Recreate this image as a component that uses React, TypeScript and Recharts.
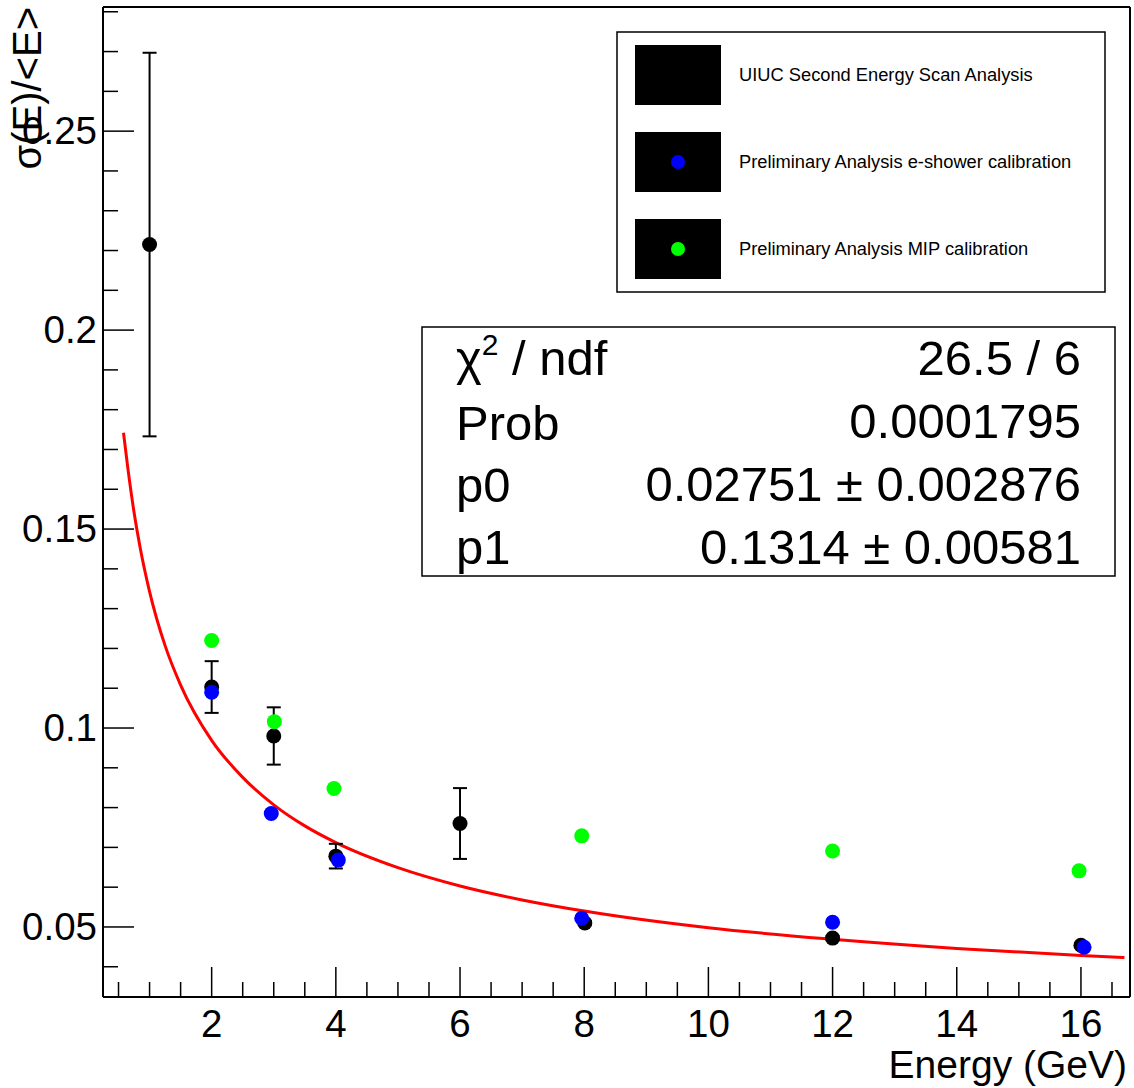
import React from "react";
import { ComposedChart, XAxis, YAxis, Scatter, Line, ErrorBar } from "recharts";

/* ── energy resolution vs beam energy, ROOT-style canvas ── */

const uiucE = [1, 2, 3, 4, 6, 8.01, 12, 16];
const uiucRes = [0.2215, 0.1103, 0.098, 0.0678, 0.076, 0.051, 0.0472, 0.0454];
const uiucErr = [0.0482, 0.0065, 0.0072, 0.0031, 0.0089, 0.0005, 0.0005, 0.0005];

const eshE = [2, 2.96, 4.04, 7.96, 12, 16.05];
const eshRes = [0.109, 0.0785, 0.0668, 0.0522, 0.0512, 0.0449];

const mipE = [2, 3.01, 3.97, 7.96, 12, 15.97];
const mipRes = [0.122, 0.1016, 0.0848, 0.0729, 0.0691, 0.0641];

// red fit curve
const fitE = [0.58, 0.65, 0.75, 0.85, 1, 1.25, 1.5, 2, 2.5, 3, 3.5, 4, 5, 6, 7, 8, 10, 12, 14, 16, 16.7];
const fitRes = [
  0.1742, 0.1653, 0.1542, 0.1452, 0.1343, 0.1207, 0.1108, 0.0969, 0.0876, 0.0807, 0.0754,
  0.0712, 0.0649, 0.0603, 0.0568, 0.054, 0.0498, 0.0469, 0.0446, 0.0428, 0.0423,
];

const xMajor = [2, 4, 6, 8, 10, 12, 14, 16];
const xLabels = ["2", "4", "6", "8", "10", "12", "14", "16"];
const yMajor = [0.05, 0.1, 0.15, 0.2, 0.25];
const yLabels = ["0.05", "0.1", "0.15", "0.2", "0.25"];

const legendLabels = [
  "UIUC Second Energy Scan Analysis",
  "Preliminary Analysis e-shower calibration",
  "Preliminary Analysis MIP calibration",
];
const statsNames = ["Prob", "p0", "p1"];
const statsValues = ["26.5 / 6", "0.0001795", "0.02751 \u00b1 0.002876", "0.1314 \u00b1 0.00581"];

const X_DOMAIN: [number, number] = [0.25, 16.79];
const Y_DOMAIN: [number, number] = [0.0324, 0.2812];

const W = 1134;
const H = 1088;
const PLOT_LEFT = 103;
const PLOT_TOP = 7;
const PLOT_RIGHT = 1130;
const PLOT_BOTTOM = 997;
const FONT = "'Liberation Sans', Arial, Helvetica, sans-serif";

const xTicks = Array.from({ length: 33 }, (_, i) => (i + 1) * 0.5);
const yTicks = Array.from({ length: 25 }, (_, i) => (i + 4) / 100);

const uiucData = uiucE.map((x, i) => ({ x, y: uiucRes[i], err: uiucErr[i] }));
const eshData = eshE.map((x, i) => ({ x, y: eshRes[i] }));
const mipData = mipE.map((x, i) => ({ x, y: mipRes[i] }));
const fitData = fitE.map((x, i) => ({ x, y: fitRes[i] }));

const near = (a: number, b: number) => Math.abs(a - b) < 1e-6;

function XTick(props: any) {
  const { x, payload } = props;
  const idx = xMajor.findIndex((m) => near(m, payload.value));
  const major = idx >= 0;
  return (
    <g>
      <line x1={x} x2={x} y1={PLOT_BOTTOM} y2={PLOT_BOTTOM - (major ? 30 : 15)} stroke="#000" strokeWidth={1.5} />
      {major && (
        <text x={x} y={1037} textAnchor="middle" fontSize={38.5} fontFamily={FONT} fill="#000">
          {xLabels[idx]}
        </text>
      )}
    </g>
  );
}

function YTick(props: any) {
  const { y, payload } = props;
  const idx = yMajor.findIndex((m) => near(m, payload.value));
  const major = idx >= 0;
  return (
    <g>
      <line x1={PLOT_LEFT} x2={PLOT_LEFT + (major ? 31 : 15)} y1={y} y2={y} stroke="#000" strokeWidth={1.5} />
      {major && (
        <text x={97} y={y + 13} textAnchor="end" fontSize={38.5} fontFamily={FONT} fill="#000">
          {yLabels[idx]}
        </text>
      )}
    </g>
  );
}

const dot = (fill: string, r: number) => (p: any) => <circle cx={p.cx} cy={p.cy} r={r} fill={fill} />;

export default function App() {
  return (
    <div style={{ position: "absolute", left: 0, top: 0, width: W, height: H, background: "#fff" }}>
      <ComposedChart width={W} height={H} margin={{ top: 0, right: 0, bottom: 0, left: 0 }}>
        <XAxis
          dataKey="x"
          type="number"
          domain={X_DOMAIN}
          allowDataOverflow
          ticks={xTicks}
          interval={0}
          height={H - PLOT_BOTTOM}
          tickSize={0}
          tickMargin={0}
          tickLine={false}
          tick={(p: any) => <XTick {...p} />}
          axisLine={{ stroke: "#000", strokeWidth: 2 }}
        />
        <XAxis
          xAxisId="top"
          orientation="top"
          type="number"
          domain={X_DOMAIN}
          allowDataOverflow
          height={PLOT_TOP}
          tick={false}
          tickLine={false}
          axisLine={{ stroke: "#000", strokeWidth: 2 }}
        />
        <YAxis
          type="number"
          domain={Y_DOMAIN}
          allowDataOverflow
          ticks={yTicks}
          interval={0}
          width={PLOT_LEFT}
          tickSize={0}
          tickMargin={0}
          tickLine={false}
          tick={(p: any) => <YTick {...p} />}
          axisLine={{ stroke: "#000", strokeWidth: 2 }}
        />
        <YAxis
          yAxisId="right"
          orientation="right"
          type="number"
          domain={Y_DOMAIN}
          allowDataOverflow
          width={W - PLOT_RIGHT}
          tick={false}
          tickLine={false}
          axisLine={{ stroke: "#000", strokeWidth: 2 }}
        />
        <Line
          data={fitData}
          dataKey="y"
          type="monotone"
          stroke="#ff0000"
          strokeWidth={3}
          dot={false}
          activeDot={false}
          isAnimationActive={false}
        />
        <Scatter data={uiucData} dataKey="y" shape={dot("#000", 7.5)} isAnimationActive={false}>
          <ErrorBar dataKey="err" direction="y" width={7} stroke="#000" strokeWidth={2} />
        </Scatter>
        <Scatter data={mipData} dataKey="y" shape={dot("#00ff00", 7.5)} isAnimationActive={false} />
        <Scatter data={eshData} dataKey="y" shape={dot("#0000ff", 7.5)} isAnimationActive={false} />
      </ComposedChart>

      <svg
        width={W}
        height={H}
        style={{ position: "absolute", left: 0, top: 0, pointerEvents: "none" }}
        fontFamily={FONT}
      >
        {/* axis titles */}
        <text x={1127} y={1078} textAnchor="end" fontSize={39} fill="#000">
          Energy (GeV)
        </text>
        <text x={41} y={7} textAnchor="end" fontSize={40} fill="#000" transform="rotate(-90 41 7)">
          σ(E)/&lt;E&gt;
        </text>

        {/* legend */}
        <rect x={617} y={32} width={488} height={260} fill="#fff" stroke="#000" strokeWidth={1.5} />
        {legendLabels.map((lab, i) => {
          const cy = 75 + i * 87;
          return (
            <g key={lab}>
              <rect x={635} y={cy - 30} width={86} height={60} fill="#000" />
              {i === 1 && <circle cx={678} cy={cy} r={7} fill="#0000ff" />}
              {i === 2 && <circle cx={678} cy={cy} r={7} fill="#00ff00" />}
              <text x={739} y={cy + 6} fontSize={18.3} fill="#000">
                {lab}
              </text>
            </g>
          );
        })}

        {/* fit statistics box */}
        <rect x={422} y={327} width={693} height={249} fill="#fff" stroke="#000" strokeWidth={1.5} />
        <text x={456} y={375} fontSize={49} fill="#000">
          χ<tspan dy={-20} fontSize={30}>2</tspan>
          <tspan dy={20}> / ndf</tspan>
        </text>
        {statsNames.map((n, i) => (
          <text key={n} x={456} y={440 + i * 62} fontSize={49} fill="#000">
            {n}
          </text>
        ))}
        {statsValues.map((v, i) => (
          <text key={v} x={1081} y={375 + i * 63} textAnchor="end" fontSize={49} fill="#000">
            {v}
          </text>
        ))}
      </svg>
    </div>
  );
}
